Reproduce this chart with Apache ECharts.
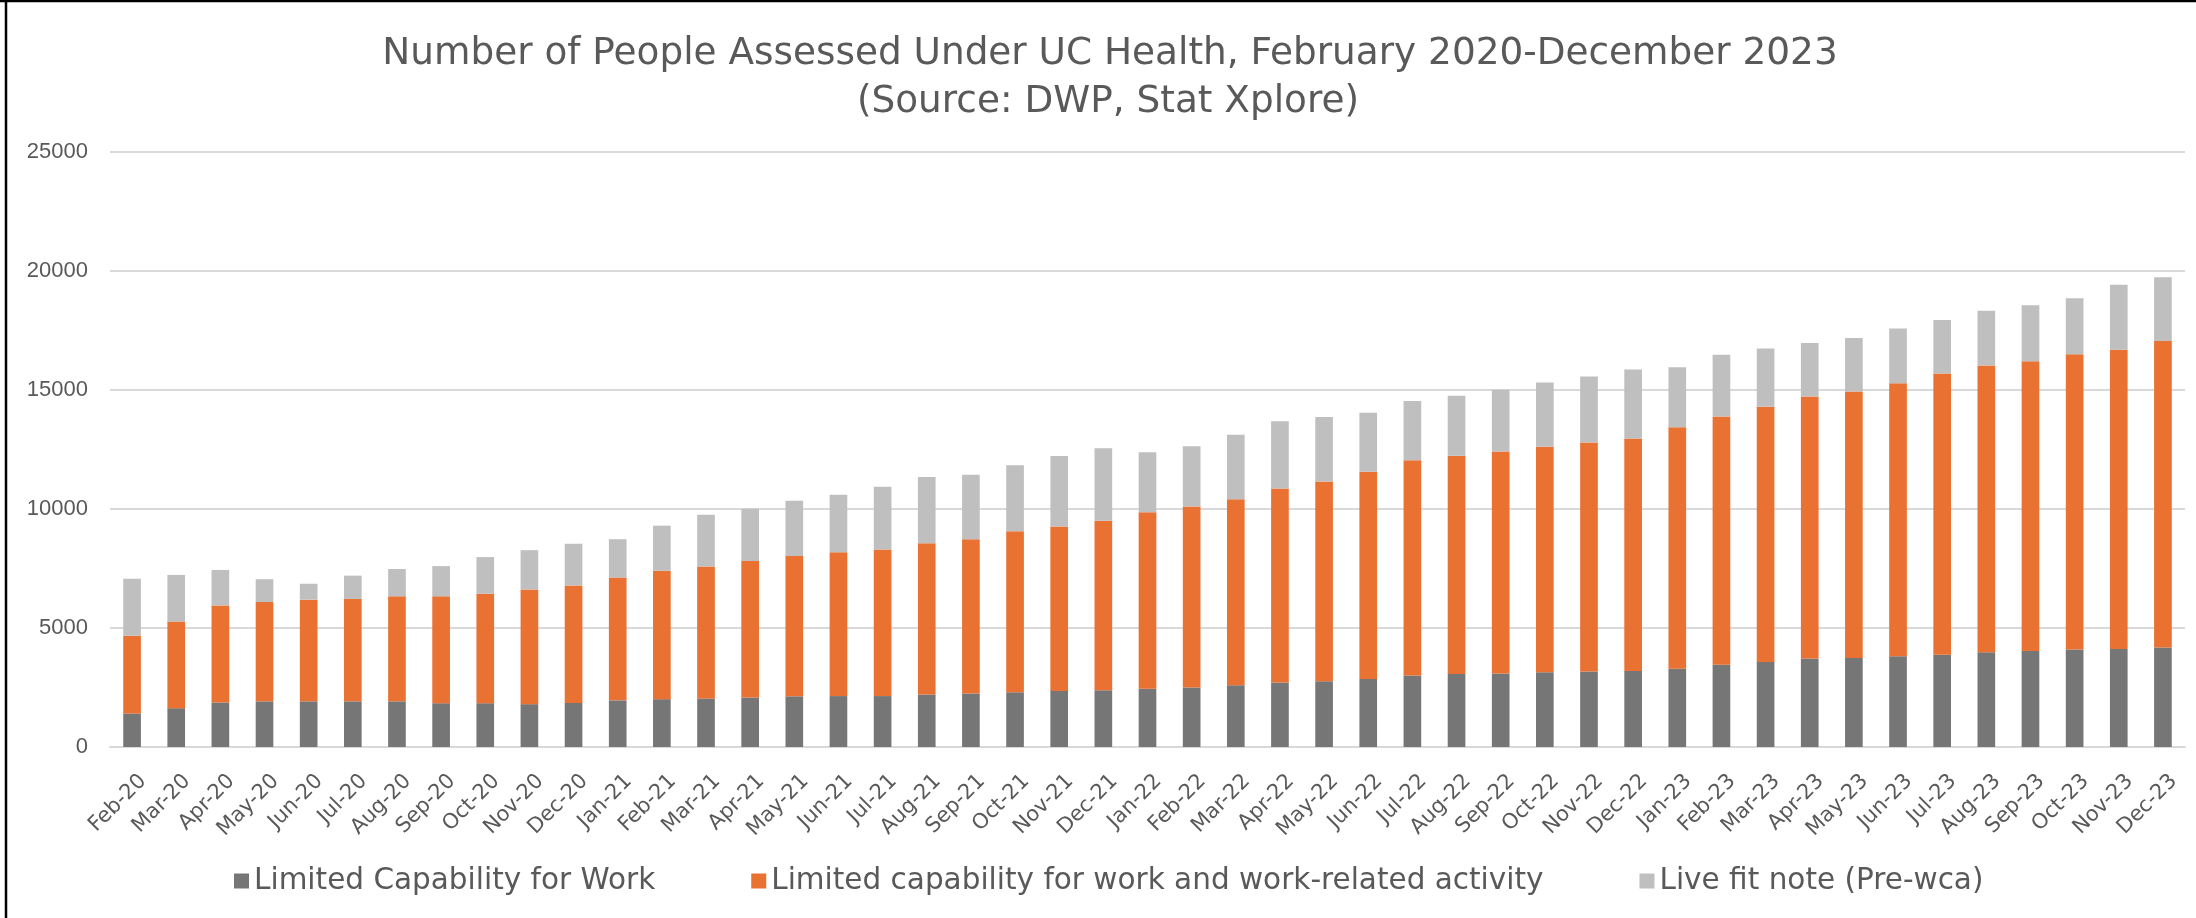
<!DOCTYPE html>
<html>
<head>
<meta charset="utf-8">
<script src="https://cdn.jsdelivr.net/npm/echarts@6/dist/echarts.min.js"></script>
<style>
html,body{margin:0;padding:0;background:#fff;}
#chart{width:2196px;height:918px;}
</style>
</head>
<body>
<div id="chart"></div>
<script>
var titleLines = ['Number of People Assessed Under UC Health, February 2020-December 2023', '(Source: DWP, Stat Xplore)'];
var categories = ['Feb-20','Mar-20','Apr-20','May-20','Jun-20','Jul-20','Aug-20','Sep-20','Oct-20','Nov-20','Dec-20',
  'Jan-21','Feb-21','Mar-21','Apr-21','May-21','Jun-21','Jul-21','Aug-21','Sep-21','Oct-21','Nov-21','Dec-21',
  'Jan-22','Feb-22','Mar-22','Apr-22','May-22','Jun-22','Jul-22','Aug-22','Sep-22','Oct-22','Nov-22','Dec-22',
  'Jan-23','Feb-23','Mar-23','Apr-23','May-23','Jun-23','Jul-23','Aug-23','Sep-23','Oct-23','Nov-23','Dec-23'];
var seriesNames = ['Limited Capability for Work', 'Limited capability for work and work-related activity', 'Live fit note (Pre-wca)'];
var lcw = [1410,1630,1870,1920,1920,1920,1920,1840,1840,1800,1850,
  1960,2010,2040,2080,2130,2140,2140,2210,2250,2300,2350,2380,
  2450,2500,2590,2710,2760,2860,3000,3070,3090,3140,3170,3190,
  3290,3460,3570,3720,3740,3810,3880,3980,4030,4100,4120,4180];
var lcwra = [3260,3640,4080,4170,4270,4300,4410,4490,4600,4820,4940,
  5160,5390,5540,5730,5900,6040,6160,6350,6480,6760,6910,7130,
  7410,7600,7820,8150,8400,8710,9050,9170,9330,9480,9620,9770,
  10150,10430,10730,11010,11200,11470,11810,12050,12180,12400,12570,12880];
var fitNote = [2400,1960,1490,960,670,980,1150,1270,1540,1650,1750,
  1610,1900,2180,2200,2320,2420,2640,2780,2710,2780,2970,3040,
  2520,2540,2710,2830,2710,2470,2490,2520,2590,2690,2780,2900,
  2520,2590,2440,2250,2250,2300,2250,2300,2350,2350,2730,2680];
var yTicks = {min: 0, max: 25000, interval: 5000};

var colors = ['#767676', '#E97132', '#BFBFBF'];
var chart = echarts.init(document.getElementById('chart'), null, {renderer: 'canvas'});
var textColor = '#595959';
var font = '"DejaVu Sans", Verdana, sans-serif';

function mkSeries(name, data, color) {
  return {
    name: name, type: 'bar', stack: 'total', data: data, barWidth: '40%',
    itemStyle: {color: color}, emphasis: {disabled: true}
  };
}

chart.setOption({
  animation: false,
  backgroundColor: '#ffffff',
  color: colors,
  graphic: [
    {type: 'line', shape: {x1: 6, y1: 0, x2: 6, y2: 918}, style: {stroke: '#000', lineWidth: 2.5}},
    {type: 'line', shape: {x1: 0, y1: 1, x2: 2196, y2: 1}, style: {stroke: '#000', lineWidth: 2.5}},
    {type: 'text', x: 1110, y: 54, style: {text: titleLines[0], font: '37.4px ' + font, fill: textColor, align: 'center', verticalAlign: 'middle'}},
    {type: 'text', x: 1108, y: 102, style: {text: titleLines[1], font: '37.4px ' + font, fill: textColor, align: 'center', verticalAlign: 'middle'}}
  ],
  grid: {left: 110, right: 11, top: 152, bottom: 171, containLabel: false},
  legend: {
    data: seriesNames, left: 229, top: 861, itemWidth: 15, itemHeight: 15, itemGap: 96,
    icon: 'rect',
    textStyle: {fontFamily: font, fontSize: 29.5, color: textColor}
  },
  xAxis: {
    type: 'category', data: categories,
    axisTick: {show: false},
    axisLine: {lineStyle: {color: '#D9D9D9', width: 2}},
    axisLabel: {interval: 0, rotate: 45, margin: 20, fontFamily: font, fontSize: 21, color: textColor,
      verticalAlign: 'top', padding: [5, 0, 0, 0]}
  },
  yAxis: {
    type: 'value', min: yTicks.min, max: yTicks.max, interval: yTicks.interval,
    axisLine: {show: false}, axisTick: {show: false},
    splitLine: {lineStyle: {color: '#D9D9D9', width: 2}},
    axisLabel: {margin: 22, fontFamily: '"Liberation Sans", Arial, sans-serif', fontSize: 22, color: textColor,
      formatter: function (v) { return String(v); }}
  },
  series: [
    mkSeries(seriesNames[0], lcw, colors[0]),
    mkSeries(seriesNames[1], lcwra, colors[1]),
    mkSeries(seriesNames[2], fitNote, colors[2])
  ]
});
</script>
</body>
</html>
